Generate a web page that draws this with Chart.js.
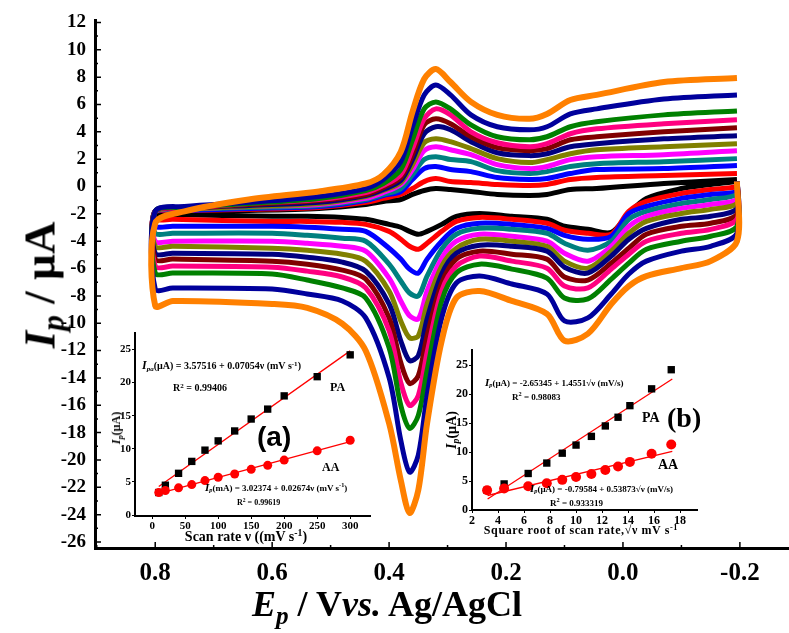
<!DOCTYPE html>
<html>
<head>
<meta charset="utf-8">
<script src="https://cdn.jsdelivr.net/npm/chart.js@4.4.1/dist/chart.umd.min.js"></script>
<style>
  html, body { margin: 0; padding: 0; background: #fff; }
  #wrap { position: relative; width: 789px; height: 633px; overflow: hidden; font-family: "Liberation Serif", "Times New Roman", serif; font-weight: bold; color: #000; }
  canvas { position: absolute; }
  .lbl { position: absolute; white-space: nowrap; transform: translateY(-50%); line-height: 1; }
  .ctr { transform: translate(-50%, -50%); }
  .rot { transform: translate(-50%, -50%) rotate(-90deg); }
  sub { font-size: 0.7em; vertical-align: -0.3em; line-height: 0; }
  sup { font-size: 0.7em; vertical-align: 0.5em; line-height: 0; }
</style>
</head>
<body>
<div id="wrap">
  <canvas id="mainChart" width="789" height="633" style="left:0;top:0;"></canvas>
  <canvas id="insetA" width="280" height="230" style="left:100px;top:325px;"></canvas>
  <canvas id="insetB" width="270" height="200" style="left:440px;top:340px;"></canvas>

  <!-- 主圖座標軸標題 -->
  <div class="lbl rot" style="left:40px;top:285px;font-size:45px;"><i>I</i><sub><i>p</i></sub> / µA</div>
  <div class="lbl ctr" style="left:387px;top:604px;font-size:36px;"><i>E</i><sub><i>p</i></sub> / V<i>vs.</i> Ag/AgCl</div>

  <!-- 小圖 (a) -->
  <div class="lbl" style="left:142px;top:365px;font-size:10px;"><i style="font-size:12px">I</i><sub><i>pa</i></sub>(µA) = 3.57516 + 0.07054ν (mV s<sup>-1</sup>)</div>
  <div class="lbl" style="left:173px;top:388px;font-size:10px;">R<sup>2</sup> = 0.99406</div>
  <div class="lbl" style="left:330px;top:387px;font-size:12px;">PA</div>
  <div class="lbl" style="left:257px;top:437px;font-size:28px;font-family:'Liberation Sans',Arial,sans-serif;">(a)</div>
  <div class="lbl" style="left:322px;top:467px;font-size:12px;">AA</div>
  <div class="lbl" style="left:205px;top:487px;font-size:9px;"><i style="font-size:11px">I</i><sub><i>p</i></sub>(mA) = 3.02374 + 0.02674ν (mV s<sup>-1</sup>)</div>
  <div class="lbl" style="left:237px;top:503px;font-size:8px;">R<sup>2</sup> = 0.99619</div>
  <div class="lbl ctr" style="left:246px;top:537px;font-size:14px;">Scan rate ν ((mV s<sup>-1</sup>)</div>
  <div class="lbl rot" style="left:116px;top:428px;font-size:12px;"><i>I</i><sub><i>p</i></sub>(µA)</div>

  <!-- 小圖 (b) -->
  <div class="lbl" style="left:485px;top:382px;font-size:9px;"><i style="font-size:11px">I</i><sub><i>p</i></sub>(µA) = -2.65345 + 1.4551√ν (mV/s)</div>
  <div class="lbl" style="left:512px;top:397px;font-size:9px;">R<sup>2</sup> = 0.98083</div>
  <div class="lbl" style="left:642px;top:418px;font-size:14px;">PA</div>
  <div class="lbl" style="left:667px;top:418px;font-size:28px;">(b)</div>
  <div class="lbl" style="left:658px;top:465px;font-size:14px;">AA</div>
  <div class="lbl" style="left:530px;top:488px;font-size:9px;"><i style="font-size:11px">I</i><sub><i>p</i></sub>(µA) = -0.79584 + 0.53873√ν (mV/s)</div>
  <div class="lbl" style="left:550px;top:503px;font-size:9px;">R<sup>2</sup> = 0.933319</div>
  <div class="lbl ctr" style="left:581px;top:530px;font-size:12px;letter-spacing:0.6px;">Square root of scan rate,√ν mV s<sup>-1</sup></div>
  <div class="lbl rot" style="left:452px;top:430px;font-size:14px;"><i>I</i><sub><i>p</i></sub>(µA)</div>
</div>

<script>
// === 循環伏安圖 + 兩個小圖 ===

// 電位路徑：從 -0.2 V 往正方向掃(下半支)，再回掃(上半支)
const E_PATH = [
  -0.195, -0.195, -0.15, -0.10, -0.04, -0.01, 0.02, 0.06, 0.10, 0.13, 0.19, 0.245, 0.285,
  0.31, 0.335, 0.35, 0.365, 0.38, 0.40, 0.44, 0.48, 0.54, 0.60, 0.77, 0.80,
  0.80, 0.75, 0.64, 0.52, 0.44, 0.41, 0.38, 0.36, 0.34, 0.32, 0.295, 0.26, 0.215,
  0.16, 0.13, 0.09, 0.045, -0.07, -0.195
];

// 各掃描速率的電流 (µA)，順序對應 E_PATH
const I_BLACK = [
  0.36, 0.36, 0.15, -0.15, -0.87, -1.97, -3.35, -3.13, -2.91, -2.40, -2.18, -1.97, -2.18,
  -2.77, -3.28, -3.49, -3.28, -2.98, -2.77, -2.40, -2.26, -2.18, -2.18, -2.04, -2.04,
  -1.82, -1.82, -1.75, -1.60, -1.31, -1.09, -0.95, -0.58, -0.29, -0.15, -0.22, -0.36, -0.58,
  -0.66, -0.58, -0.22, -0.15, 0.22, 0.51
];
const I_RED = [
  0.36, 0, -0.22, -0.51, -1.09, -1.82, -3.49, -3.42, -3.20, -2.69, -2.40, -2.26, -2.55,
  -3.28, -4.15, -4.59, -4.37, -3.86, -3.28, -2.77, -2.62, -2.55, -2.55, -2.40, -2.40,
  -1.82, -1.75, -1.67, -1.53, -1.16, -0.87, -0.58, -0.15, 0.36, 0.58, 0.36, 0.29, 0.15,
  0.07, 0.15, 0.51, 0.66, 0.80, 0.95
];
const I_BLUE = [
  0.36, -0.36, -0.58, -0.87, -1.46, -1.97, -3.64, -3.86, -3.57, -3.06, -2.77, -2.69, -3.06,
  -4.00, -5.31, -6.33, -6.04, -5.31, -4.51, -3.28, -3.13, -2.98, -2.91, -2.91, -2.91,
  -1.82, -1.75, -1.60, -1.46, -1.02, -0.66, -0.36, 0.51, 1.31, 1.46, 1.24, 1.09, 0.66,
  0.51, 0.58, 0.95, 1.24, 1.31, 1.53
];
const I_TEAL = [
  0.36, -0.58, -0.95, -1.24, -1.82, -2.40, -4.00, -4.66, -4.15, -3.42, -3.13, -3.06, -3.49,
  -4.59, -6.55, -8.01, -7.79, -6.91, -5.68, -4.00, -3.78, -3.57, -3.42, -3.42, -3.42,
  -1.82, -1.67, -1.53, -1.38, -0.95, -0.58, -0.15, 0.87, 1.97, 2.18, 1.97, 1.82, 1.16,
  0.95, 1.09, 1.46, 1.67, 1.82, 2.04
];
const I_MAGENTA = [
  0.36, -0.95, -1.31, -1.60, -2.18, -2.91, -4.37, -5.46, -4.88, -4.00, -3.64, -3.49, -4.00,
  -5.24, -7.64, -9.68, -9.46, -8.37, -6.70, -4.73, -4.37, -4.15, -4.00, -4.00, -4.00,
  -1.82, -1.67, -1.46, -1.31, -0.87, -0.44, 0.15, 1.24, 2.62, 2.91, 2.69, 2.33, 1.60,
  1.31, 1.46, 1.97, 2.18, 2.33, 2.62
];
const I_OLIVE = [
  0.36, -1.24, -1.67, -1.97, -2.55, -3.42, -4.73, -5.97, -5.46, -4.37, -4.00, -3.86, -4.51,
  -5.82, -8.59, -10.92, -11.06, -9.83, -7.64, -5.46, -4.95, -4.66, -4.51, -4.37, -4.37,
  -1.82, -1.67, -1.46, -1.24, -0.73, -0.29, 0.29, 1.60, 3.20, 3.49, 3.28, 2.77, 2.04,
  1.75, 1.97, 2.40, 2.69, 2.91, 3.13
];
const I_NAVY = [
  0.36, -1.60, -2.18, -2.40, -3.06, -3.86, -5.09, -6.33, -5.90, -4.73, -4.37, -4.29, -4.88,
  -6.40, -9.68, -12.37, -12.74, -11.28, -8.59, -6.19, -5.53, -5.17, -4.95, -4.88, -4.88,
  -1.82, -1.60, -1.38, -1.16, -0.66, -0.22, 0.44, 1.97, 3.86, 4.37, 4.15, 3.28, 2.47,
  2.26, 2.40, 2.91, 3.13, 3.49, 3.71
];
const I_MAROON = [
  0.36, -2.04, -2.69, -2.91, -3.49, -4.51, -5.60, -6.84, -6.62, -5.31, -4.95, -4.73, -5.31,
  -7.06, -10.92, -13.83, -14.41, -12.88, -9.61, -6.77, -6.11, -5.68, -5.46, -5.31, -5.31,
  -1.82, -1.60, -1.31, -1.02, -0.58, -0.07, 0.66, 2.33, 4.51, 4.95, 4.59, 3.64, 2.84,
  2.62, 2.77, 3.42, 3.64, 4.00, 4.29
];
const I_PINK = [
  0.36, -2.40, -3.13, -3.42, -4.00, -4.95, -6.04, -7.42, -7.28, -5.97, -5.46, -5.09, -5.82,
  -7.64, -12.15, -15.28, -16.01, -14.34, -10.55, -7.42, -6.62, -6.19, -5.90, -5.82, -5.82,
  -1.82, -1.60, -1.24, -0.95, -0.44, 0.07, 0.87, 2.77, 4.95, 5.68, 5.24, 4.00, 3.20,
  2.91, 3.13, 3.86, 4.22, 4.59, 4.88
];
const I_GREEN = [
  0.36, -2.91, -3.64, -4.00, -4.59, -5.60, -6.77, -8.22, -8.15, -6.70, -6.04, -5.68, -6.33,
  -8.37, -13.46, -16.74, -17.69, -16.01, -11.79, -8.15, -7.42, -6.84, -6.40, -6.33, -6.33,
  -1.82, -1.53, -1.24, -0.87, -0.29, 0.22, 1.24, 3.42, 5.68, 6.19, 5.68, 4.51, 3.64,
  3.42, 3.64, 4.37, 4.73, 5.24, 5.53
];
const I_DARKBLUE = [
  0.36, -3.42, -4.37, -4.73, -5.46, -6.40, -7.86, -9.61, -9.83, -7.86, -7.13, -6.55, -7.06,
  -9.61, -15.28, -19.65, -20.89, -18.56, -13.97, -9.61, -8.37, -7.86, -7.50, -7.42, -7.50,
  -1.82, -1.46, -1.16, -0.73, -0.15, 0.51, 1.82, 4.37, 6.70, 7.42, 6.70, 5.24, 4.37,
  4.15, 4.37, 5.31, 5.68, 6.40, 6.70
];
const I_ORANGE = [
  0.36, -4.00, -5.46, -5.97, -6.55, -7.28, -8.59, -10.77, -11.28, -9.32, -8.37, -7.64, -8.15,
  -11.28, -17.32, -22.20, -23.87, -21.47, -17.32, -12.01, -10.04, -8.88, -8.59, -8.37, -8.73,
  -2.69, -1.82, -0.95, -0.36, 0.22, 0.87, 2.55, 5.46, 7.86, 8.59, 7.64, 6.19, 5.24,
  4.95, 5.31, 6.33, 6.70, 7.64, 7.93
];

// 主圖刻度 (主刻度 + 次刻度)
const E_TICKS = [0.8, 0.6, 0.4, 0.2, 0.0, -0.2];
const E_MINOR = [0.9, 0.7, 0.5, 0.3, 0.1, -0.1];
const I_TICKS = [12, 10, 8, 6, 4, 2, 0, -2, -4, -6, -8, -10, -12, -14, -16, -18, -20, -22, -24, -26];
const I_MINOR = [11, 9, 7, 5, 3, 1, -1, -3, -5, -7, -9, -11, -13, -15, -17, -19, -21, -23, -25];

// 小圖資料：掃描速率 (mV/s)、根號掃描速率、峰電流 (µA)
const SCAN_RATES = [10, 20, 40, 60, 80, 100, 125, 150, 175, 200, 250, 300];
const SQRT_SCAN = [3.16, 4.47, 6.32, 7.75, 8.94, 10.0, 11.18, 12.25, 13.23, 14.14, 15.81, 17.32];
const PA_CURRENT = [3.4, 4.5, 6.3, 8.1, 9.8, 11.2, 12.7, 14.5, 16.0, 18.0, 20.9, 24.2];
const AA_CURRENT = [3.4, 3.7, 4.1, 4.6, 5.2, 5.7, 6.2, 6.9, 7.5, 8.3, 9.7, 11.3];

// 擬合直線端點
const FIT_A_PA_X = [10, 300];
const FIT_A_PA_Y = [4.3, 24.8];
const FIT_A_AA_X = [8, 300];
const FIT_A_AA_Y = [3.2, 11.1];
const FIT_B_X = [3.2, 17.4];
const FIT_B_PA_Y = [1.9, 22.6];
const FIT_B_AA_Y = [2.5, 10.1];

const A_X_TICKS = [0, 50, 100, 150, 200, 250, 300];
const A_Y_TICKS = [0, 5, 10, 15, 20, 25];
const B_X_TICKS = [2, 4, 6, 8, 10, 12, 14, 16, 18];
const B_Y_TICKS = [0, 5, 10, 15, 20, 25];

const SERIF = '"Liberation Serif", "Times New Roman", serif';

// 曲線顏色 (低速 -> 高速)
const CURVES = [
  { color: "#000000", current: I_BLACK },
  { color: "#ff0000", current: I_RED },
  { color: "#0000ff", current: I_BLUE },
  { color: "#008080", current: I_TEAL },
  { color: "#ff00ff", current: I_MAGENTA },
  { color: "#808000", current: I_OLIVE },
  { color: "#000080", current: I_NAVY },
  { color: "#800000", current: I_MAROON },
  { color: "#ff0080", current: I_PINK },
  { color: "#008000", current: I_GREEN },
  { color: "#00009c", current: I_DARKBLUE },
  { color: "#ff8000", current: I_ORANGE }
];

function toPoints(xs, ys) {
  return xs.map((x, i) => ({ x: x, y: ys[i] }));
}

function fixedTicks(list) {
  return (scale) => {
    scale.ticks = list.map((v) => ({ value: v }));
  };
}

// 工具：主圖座標軸內側的小刻度
const innerTicks = {
  id: "innerTicks",
  afterDraw(chart) {
    const { ctx, chartArea, scales } = chart;
    ctx.save();
    ctx.strokeStyle = "#000";
    ctx.lineWidth = 1.5;
    ctx.beginPath();
    const xTick = (v, len) => {
      const px = scales.x.getPixelForValue(v);
      ctx.moveTo(px, chartArea.bottom);
      ctx.lineTo(px, chartArea.bottom - len);
    };
    const yTick = (v, len) => {
      const py = scales.y.getPixelForValue(v);
      ctx.moveTo(chartArea.left, py);
      ctx.lineTo(chartArea.left + len, py);
    };
    E_TICKS.forEach((v) => xTick(v, 6));
    E_MINOR.forEach((v) => xTick(v, 3));
    I_TICKS.forEach((v) => yTick(v, 6));
    I_MINOR.forEach((v) => yTick(v, 3));
    ctx.stroke();
    ctx.restore();
  }
};

// 主圖
function initMainChart() {
  // 第 0 個 dataset 會畫在最上層，所以橘色放最前面
  const datasets = CURVES.slice().reverse().map((c, idx) => ({
    data: toPoints(E_PATH, c.current),
    showLine: true,
    borderColor: c.color,
    borderWidth: idx === 0 ? 6 : 5,
    pointRadius: 0,
    tension: 0.3,
    fill: false
  }));

  new Chart(document.getElementById("mainChart"), {
    type: "scatter",
    data: { datasets },
    plugins: [innerTicks],
    options: {
      responsive: false,
      animation: false,
      layout: { padding: { top: 18, right: 0, left: 0, bottom: 0 } },
      plugins: { legend: { display: false }, tooltip: { enabled: false } },
      scales: {
        x: {
          type: "linear",
          reverse: true,
          min: -0.284,
          max: 0.903,
          afterBuildTicks: fixedTicks(E_TICKS),
          afterFit: (s) => { s.height = 85; },
          ticks: {
            color: "#000",
            padding: 11,
            font: { family: SERIF, size: 25, weight: "bold" },
            callback: (v) => Number(v).toFixed(1)
          },
          grid: { display: false, drawTicks: false },
          border: { display: true, color: "#000", width: 3 }
        },
        y: {
          type: "linear",
          min: -26.44,
          max: 12.15,
          afterBuildTicks: fixedTicks(I_TICKS),
          afterFit: (s) => { s.width = 95; },
          ticks: {
            color: "#000",
            padding: 9,
            font: { family: SERIF, size: 19, weight: "bold" },
            callback: (v) => String(v)
          },
          grid: { display: false, drawTicks: false },
          border: { display: true, color: "#000", width: 3 }
        }
      }
    }
  });
}

// 小圖共用設定
function insetOptions(cfg) {
  return {
    responsive: false,
    animation: false,
    layout: { padding: { top: cfg.padTop, right: cfg.padRight, left: 0, bottom: 0 } },
    plugins: { legend: { display: false }, tooltip: { enabled: false } },
    scales: {
      x: {
        type: "linear",
        min: cfg.xMin,
        max: cfg.xMax,
        afterBuildTicks: fixedTicks(cfg.xTicks),
        afterFit: (s) => { s.height = cfg.xHeight; },
        ticks: { color: "#000", padding: 1, font: { family: SERIF, size: cfg.font, weight: "bold" } },
        grid: { display: true, drawOnChartArea: false, drawTicks: true, tickLength: 3, color: "#000", lineWidth: 1 },
        border: { display: true, color: "#000", width: 2 }
      },
      y: {
        type: "linear",
        min: cfg.yMin,
        max: cfg.yMax,
        afterBuildTicks: fixedTicks(cfg.yTicks),
        afterFit: (s) => { s.width = cfg.yWidth; },
        ticks: { color: "#000", padding: 1, font: { family: SERIF, size: cfg.font, weight: "bold" } },
        grid: { display: true, drawOnChartArea: false, drawTicks: true, tickLength: 3, color: "#000", lineWidth: 1 },
        border: { display: true, color: "#000", width: 2 }
      }
    }
  };
}

function fitLine(xs, ys) {
  return {
    data: toPoints(xs, ys),
    showLine: true,
    borderColor: "#ff0000",
    borderWidth: 1.3,
    pointRadius: 0,
    fill: false
  };
}

function markers(xs, ys, style, color, r) {
  return {
    data: toPoints(xs, ys),
    showLine: false,
    pointStyle: style,
    pointRadius: r,
    pointBackgroundColor: color,
    pointBorderColor: color,
    pointBorderWidth: 0
  };
}

function initInsetA() {
  new Chart(document.getElementById("insetA"), {
    type: "scatter",
    data: {
      datasets: [
        markers(SCAN_RATES, AA_CURRENT, "circle", "#ff0000", 4.5),
        markers(SCAN_RATES, PA_CURRENT, "rect", "#000000", 5.2),
        fitLine(FIT_A_PA_X, FIT_A_PA_Y),
        fitLine(FIT_A_AA_X, FIT_A_AA_Y)
      ]
    },
    options: insetOptions({
      padTop: 8, padRight: 10, xHeight: 39, yWidth: 35,
      xMin: -26, xMax: 330, yMin: -0.15, yMax: 27.5,
      xTicks: A_X_TICKS, yTicks: A_Y_TICKS, font: 11
    })
  });
}

function initInsetB() {
  new Chart(document.getElementById("insetB"), {
    type: "scatter",
    data: {
      datasets: [
        markers(SQRT_SCAN, AA_CURRENT, "circle", "#ff0000", 5),
        markers(SQRT_SCAN, PA_CURRENT, "rect", "#000000", 5.2),
        fitLine(FIT_B_X, FIT_B_PA_Y),
        fitLine(FIT_B_X, FIT_B_AA_Y)
      ]
    },
    options: insetOptions({
      padTop: 10, padRight: 13, xHeight: 30, yWidth: 32,
      xMin: 2, xMax: 19.3, yMin: 0, yMax: 27.6,
      xTicks: B_X_TICKS, yTicks: B_Y_TICKS, font: 12
    })
  });
}

document.addEventListener("DOMContentLoaded", () => {
  initMainChart();
  initInsetA();
  initInsetB();
});
</script>
</body>
</html>
